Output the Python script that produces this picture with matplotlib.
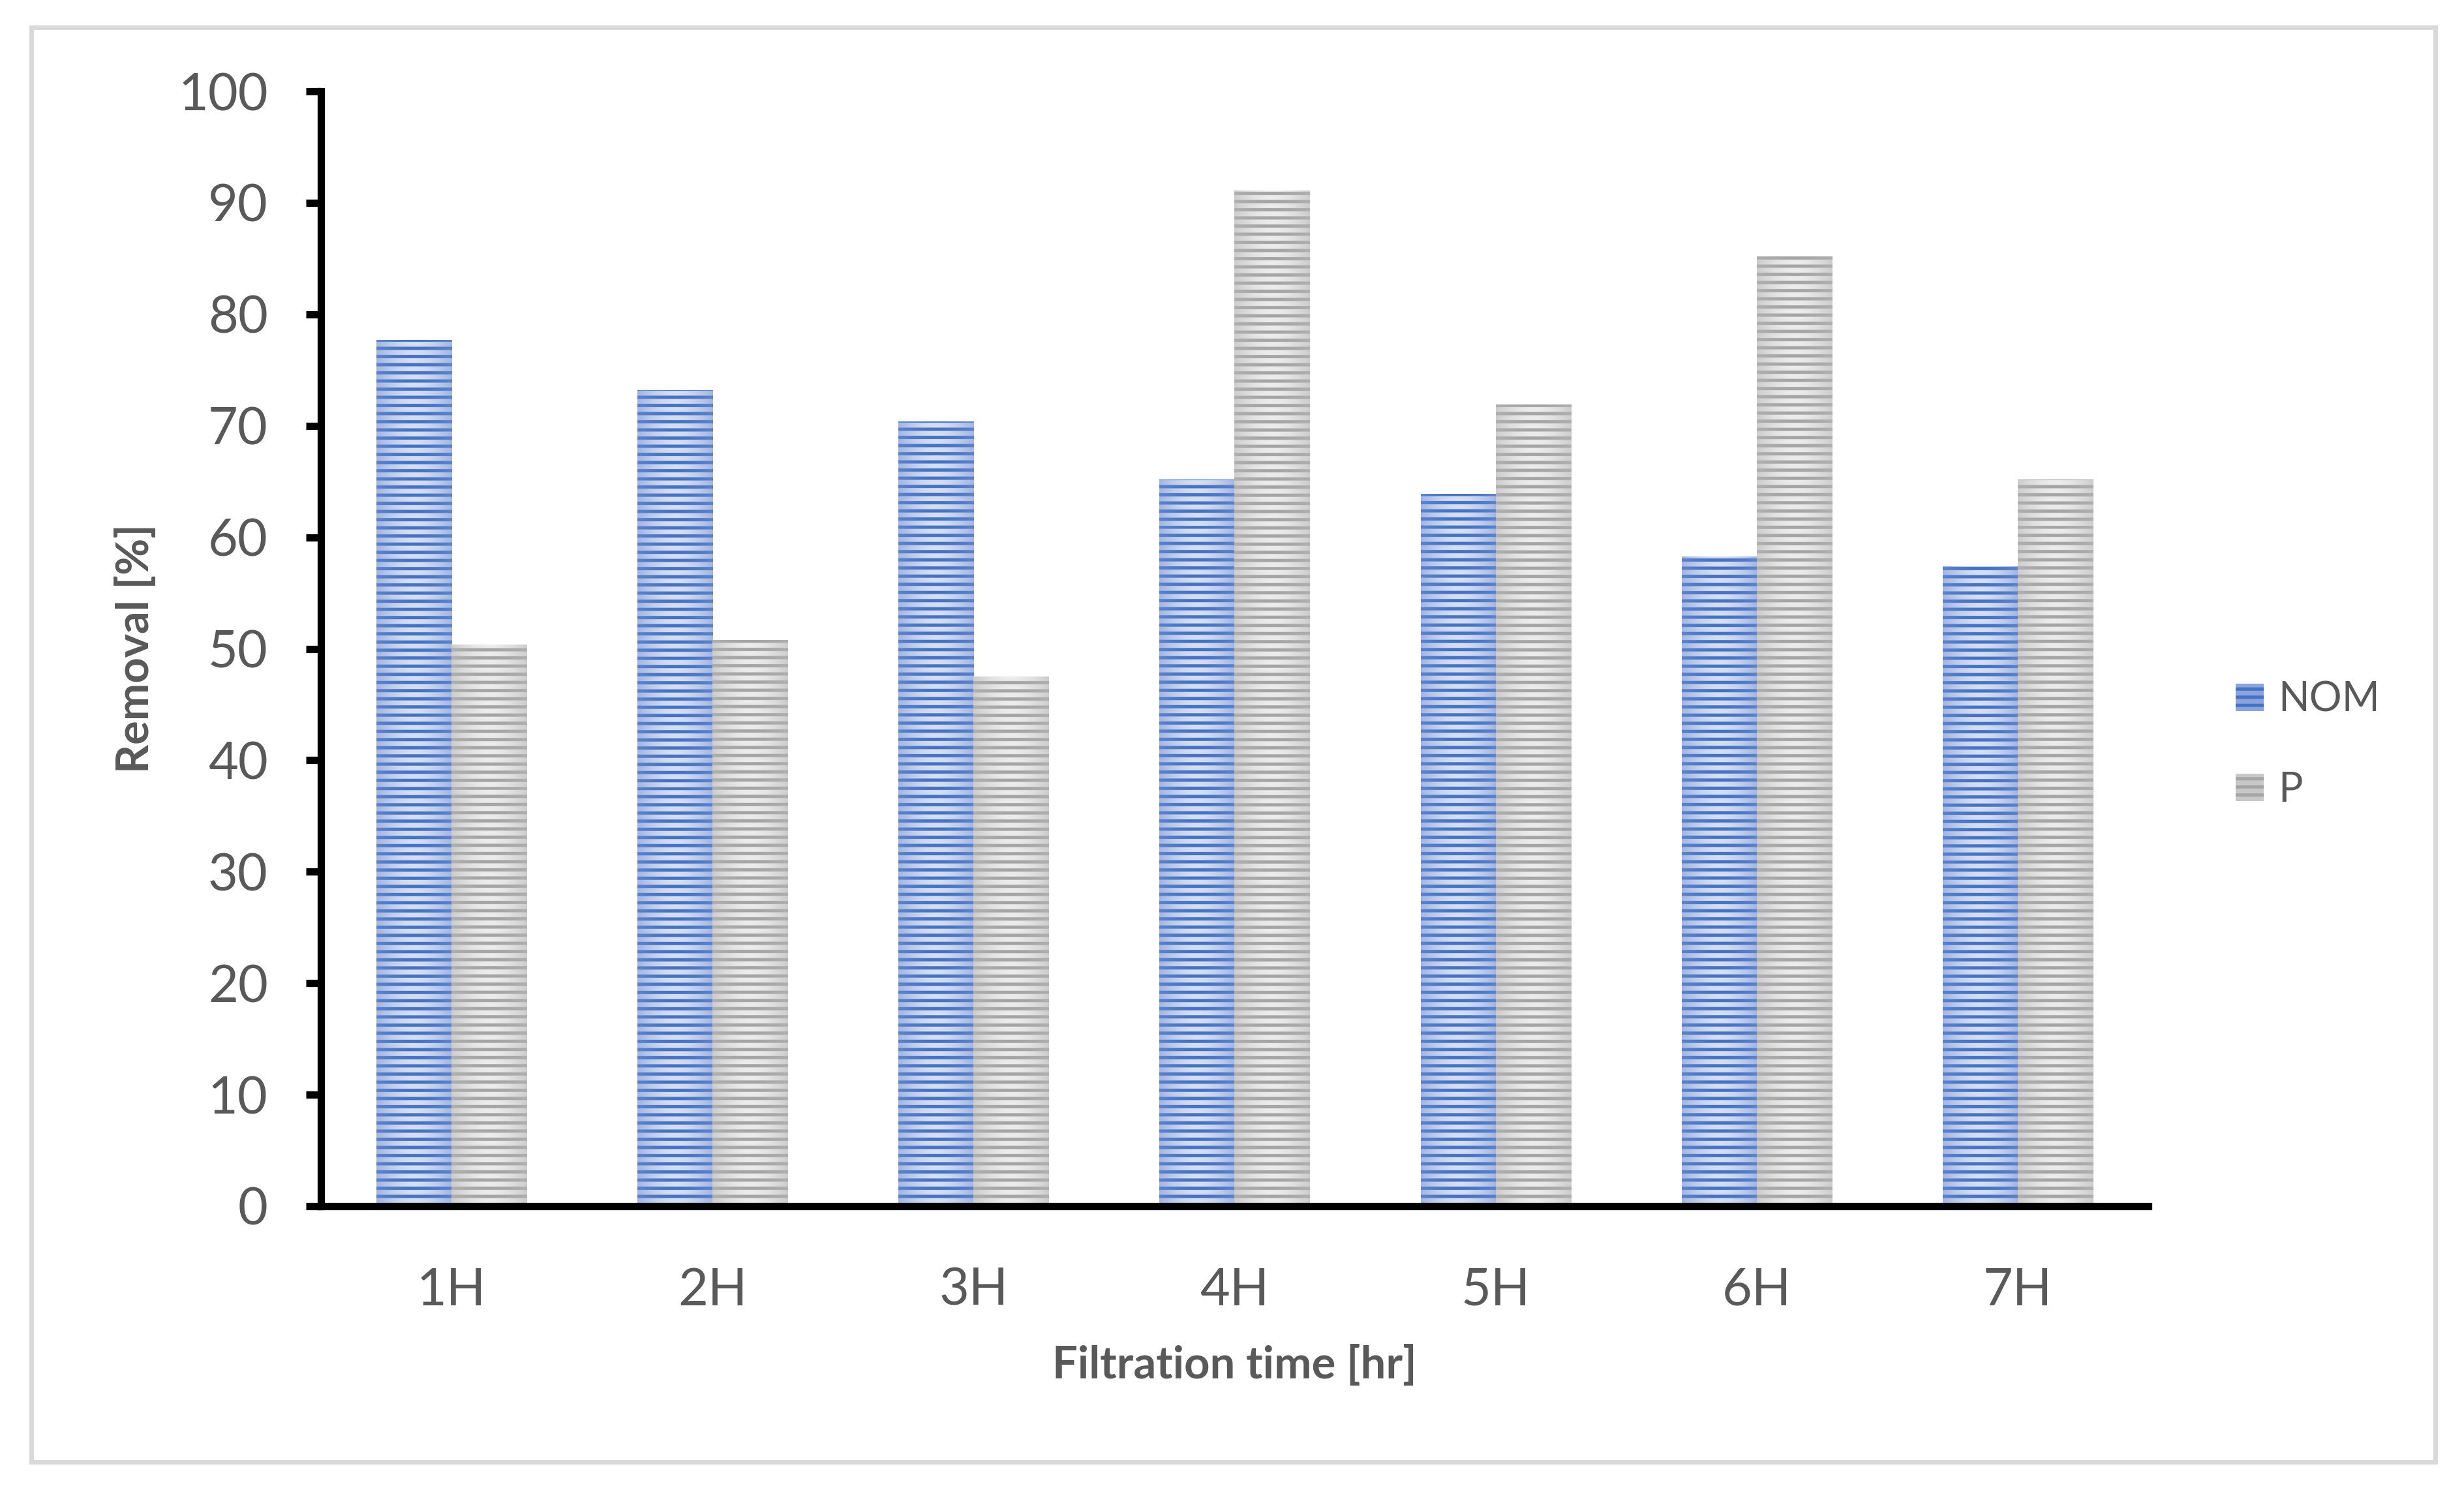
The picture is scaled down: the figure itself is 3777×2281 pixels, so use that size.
import numpy as np
import matplotlib.pyplot as plt
from matplotlib.colors import to_rgb
from matplotlib.patches import Patch, Rectangle

plt.rcParams['font.family'] = ['Lato', 'DejaVu Sans']
plt.rcParams['hatch.linewidth'] = 1.2

categories = ['1H', '2H', '3H', '4H', '5H', '6H', '7H']
nom = [77.7, 73.2, 70.4, 65.2, 63.9, 58.3, 57.4]
p = [50.4, 50.8, 47.5, 91.1, 71.9, 85.2, 65.2]

txt = '#595959'
blue_dark, blue_edge, blue_mid = '#4472c4', '#a3b6e3', '#d6def1'
gray_dark, gray_edge, gray_mid = '#a5a5a5', '#cdcdcd', '#ececec'

fig = plt.figure(figsize=(3777 / 300, 2281 / 300), dpi=300)
ax = fig.add_axes([492 / 3777, 1 - 1849 / 2281, (3293 - 492) / 3777, (1849 - 140) / 2281])

# light border round the whole chart
fig.add_artist(Rectangle((48 / 3777, 1 - 2241 / 2281), (3733 - 48) / 3777, (2241 - 42) / 2281,
                         transform=fig.transFigure, fill=False, edgecolor='#d9d9d9', lw=1.7))

px_per_unit = (1849 - 140) / 100   # vertical pixels per % at 300 dpi
period, dark_px = 12.5, 5.0        # stripe texture in pixels


def texture(h, edge, mid, dark):
    t = np.linspace(-1, 1, 64)
    wgt = np.abs(t) ** 1.6
    e, m, d = np.array(to_rgb(edge)), np.array(to_rgb(mid)), np.array(to_rgb(dark))
    row = m[None, :] * (1 - wgt[:, None]) + e[None, :] * wgt[:, None]
    drow = d[None, :] * (1 - 0.25 * wgt[:, None]) + e[None, :] * 0.25 * wgt[:, None]
    n = max(int(h * px_per_unit * 2), 2)
    ypix = (h - (np.arange(n) + 0.5) / n * h) * px_per_unit
    stripe = (ypix % period) < dark_px
    img = np.where(stripe[:, None, None], drow[None, :, :], row[None, :, :])
    return img


x = np.arange(len(categories))
w = 0.2875
for vals, off, dark, edge, mid in [(nom, -w / 2, blue_dark, blue_edge, blue_mid),
                                   (p, w / 2, gray_dark, gray_edge, gray_mid)]:
    bars = ax.bar(x + off, vals, w, facecolor='none', lw=0, zorder=3)
    for b in bars:
        im = ax.imshow(texture(b.get_height(), edge, mid, dark),
                       extent=[b.get_x(), b.get_x() + b.get_width(), 0, b.get_height()],
                       aspect='auto', zorder=2, interpolation='antialiased')
        im.set_clip_path(b)

ax.set_xlim(-0.5, 6.5)
ax.set_ylim(0, 100)
ax.set_yticks(range(0, 101, 10))
ax.set_xticks(x)
ax.set_xticklabels(categories)

for s in ['top', 'right']:
    ax.spines[s].set_visible(False)
for s in ['left', 'bottom']:
    ax.spines[s].set_linewidth(2.7)
    ax.spines[s].set_color('black')
ax.tick_params(axis='y', length=5.5, width=2.7, pad=14, labelsize=19, labelcolor=txt)
ax.tick_params(axis='x', length=0, pad=22.5, labelsize=19, labelcolor=txt)

ax.set_xlabel('Filtration time [hr]', fontsize=16.5, fontweight='bold', color=txt, labelpad=11)
ax.set_ylabel('Removal [%]', fontsize=16.5, fontweight='bold', color=txt, labelpad=8)

handles = [Patch(facecolor='#8aa3dc', edgecolor=blue_dark, hatch='----', lw=0, label='NOM'),
           Patch(facecolor='#c8c8c8', edgecolor=gray_dark, hatch='----', lw=0, label='P')]
fig.legend(handles=handles, loc='upper left', bbox_to_anchor=(3427 / 3777, 1 - 1044 / 2281),
           frameon=False, fontsize=15, labelcolor=txt, borderpad=0, borderaxespad=0,
           handlelength=0.69, handleheight=0.67, handletextpad=0.35, labelspacing=1.28)

fig.savefig('out.png', dpi=300)
